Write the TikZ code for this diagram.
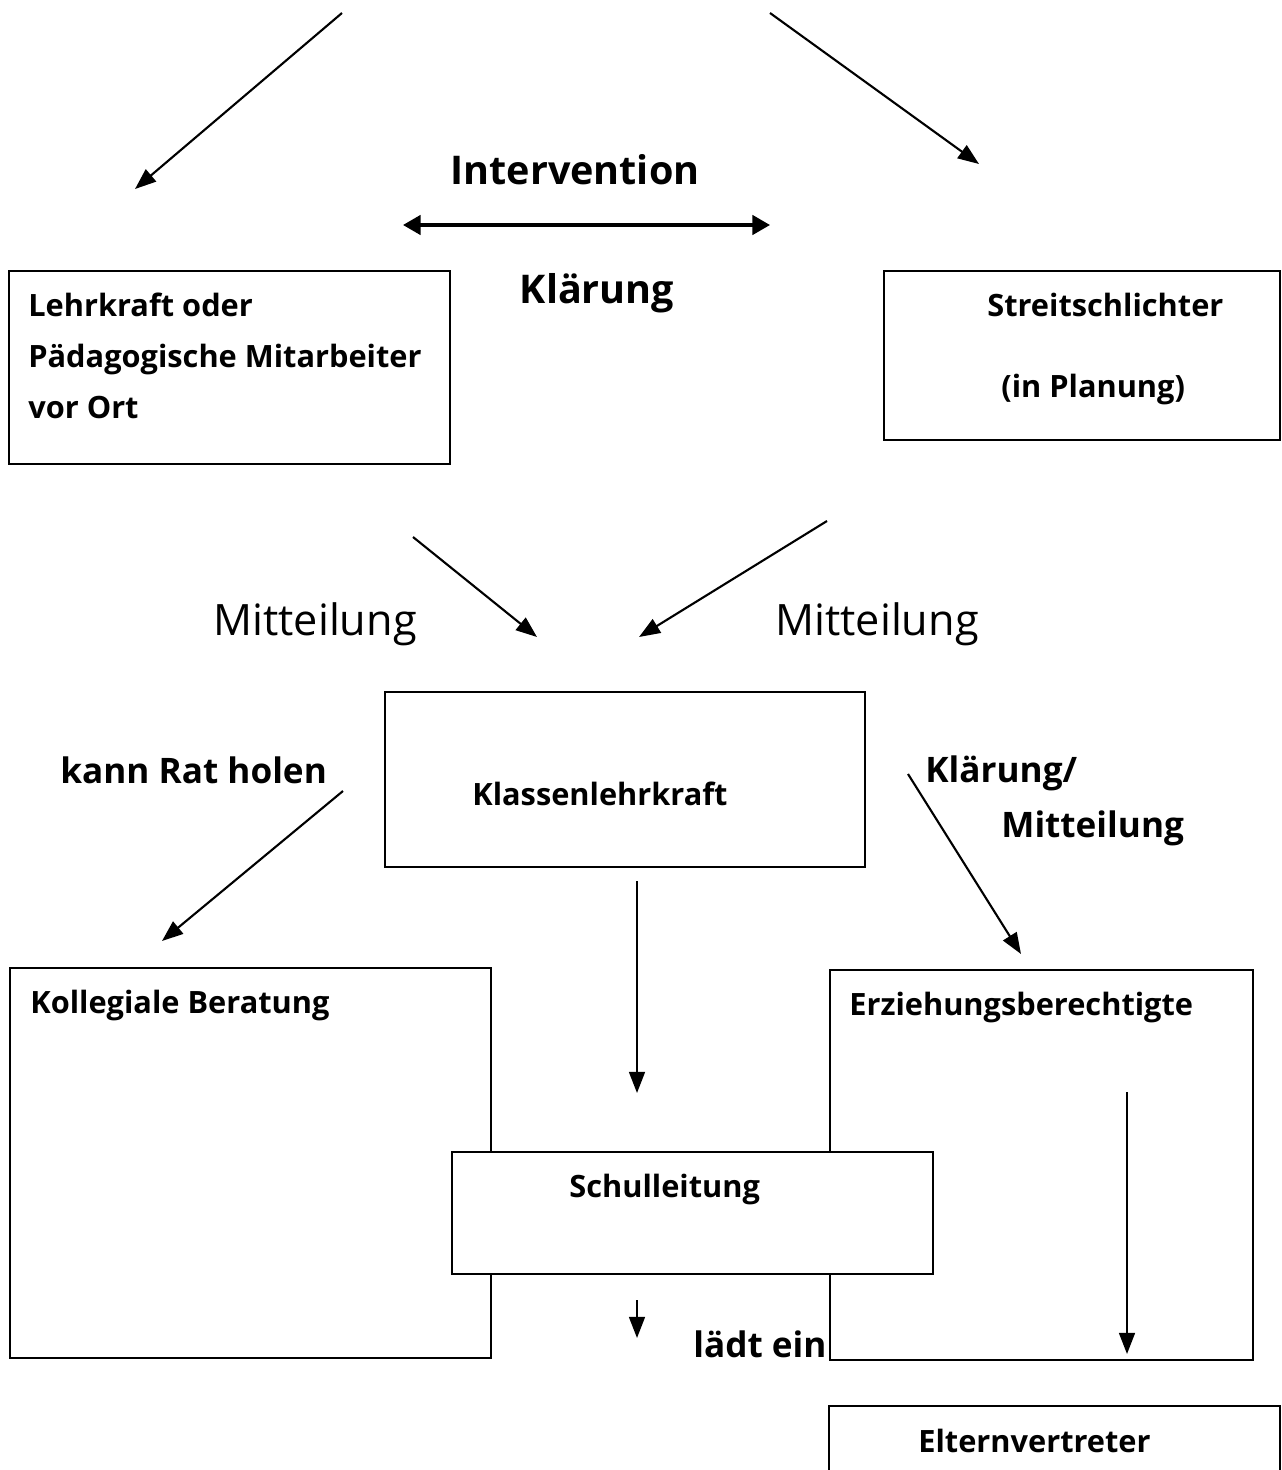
\documentclass[tikz,border=0pt]{standalone}
\usepackage{fontspec}
\setmainfont{Open Sans}
\usepackage{tikz}
\usetikzlibrary{arrows.meta}
\usetikzlibrary{positioning}
\tikzset{>={Triangle[length=12pt,width=9pt]}}

\begin{document}
\begin{tikzpicture}[x=0.02cm, y=-0.02cm]
                        % coordinates in pixels of the sheet, y grows downwards
                        \tikzstyle{box}=[draw=black, line width=1.1pt, fill=white, anchor=north west, inner sep=0pt]
                        \tikzstyle{txt}=[anchor=base west, inner sep=0pt, font=\fontsize{17.5}{21}\selectfont\bfseries]
                        \tikzstyle{big}=[anchor=base, inner sep=0pt, font=\fontsize{22.5}{27}\selectfont\bfseries]
                        \tikzstyle{say}=[anchor=base west, inner sep=0pt, font=\fontsize{20}{24}\selectfont\bfseries]
                        \tikzstyle{every edge}=[draw, black, ->, line width=1.2pt]
                        \useasboundingbox (0,0) rectangle (1281,1470);

                        % top part
                        \node[big] (interv) at (575,184) {Intervention};
                        \node[big] (klar) at (597,303) {Klärung};
                        \coordinate (ivL) at (342,13);
                        \coordinate (ivLend) at (135,189);
                        \coordinate (ivR) at (770,13);
                        \coordinate (ivRend) at (979,164);
                        \draw (ivL) edge (ivLend);
                        \draw (ivR) edge (ivRend);
                        \coordinate (klL) at (403,225);
                        \coordinate (klR) at (770,225);
                        \draw[{Triangle[length=10pt,width=11pt]}-{Triangle[length=10pt,width=11pt]}, line width=1.9pt] (klL) -- (klR);

                        \node[box, minimum width=8.82cm, minimum height=3.86cm] (lehr) at (8,270) {};
                        \node[txt] (lehr1) at (28,316) {Lehrkraft oder};
                        \node[txt] (lehr2) at (28,367) {Pädagogische Mitarbeiter};
                        \node[txt] (lehr3) at (28,418) {vor Ort};

                        \node[box, minimum width=7.92cm, minimum height=3.38cm] (streit) at (883,270) {};
                        \node[txt] (streit1) at (987,316) {Streitschlichter};
                        \node[txt] (streit2) at (1001,397) {(in Planung)};

                        % middle part
                        \node[anchor=base west, inner sep=0pt, font=\fontsize{24.6}{30}\selectfont] (mitL) at (213,635) {Mitteilung};
                        \node[anchor=base west, inner sep=0pt, font=\fontsize{24.6}{30}\selectfont] (mitR) at (775,635) {Mitteilung};
                        \coordinate (miL) at (413,537);
                        \coordinate (miLend) at (537,637);
                        \coordinate (miR) at (827,521);
                        \coordinate (miRend) at (639,637);
                        \draw (miL) edge (miLend);
                        \draw (miR) edge (miRend);

                        \node[box, minimum width=9.6cm, minimum height=3.5cm] (klasse) at (384,691) {};
                        \node[txt] (klasse1) at (472,805) {Klassenlehrkraft};

                        \node[say] (rat) at (60,783) {kann Rat holen};
                        \node[say] (klar2) at (925,782) {Klärung/};
                        \node[say] (mit2) at (1001,837) {Mitteilung};
                        \coordinate (ra) at (343,791);
                        \coordinate (raend) at (162,941);
                        \coordinate (km) at (908,774);
                        \coordinate (kmend) at (1021,954);
                        \coordinate (kl) at (637,881);
                        \coordinate (klend) at (637,1093);
                        \draw (ra) edge (raend);
                        \draw (km) edge (kmend);
                        \draw (kl) edge (klend);

                        % bottom part
                        \node[say] (laedt) at (693,1357) {lädt ein};
                        \coordinate (sl) at (637,1300);
                        \coordinate (slend) at (637,1338);
                        \draw (sl) edge (slend);

                        \node[box, minimum width=9.62cm, minimum height=7.8cm] (koll) at (9,967) {};
                        \node[txt] (koll1) at (30,1013) {Kollegiale Beratung};

                        \node[box, minimum width=8.46cm, minimum height=7.8cm] (erz) at (829,969) {};
                        \node[txt] (erz1) at (849,1015) {Erziehungsberechtigte};
                        \coordinate (ez) at (1127,1092);
                        \coordinate (ezend) at (1127,1354);
                        \draw (ez) edge (ezend);

                        \node[box, minimum width=9.62cm, minimum height=2.44cm] (schul) at (451,1151) {};
                        \node[txt] (schul1) at (569,1197) {Schulleitung};

                        \node[box, minimum width=9.02cm, minimum height=2.4cm] (eltern) at (828,1405) {};
                        \node[txt] (eltern1) at (918,1452) {Elternvertreter};
                \end{tikzpicture}
\end{document}
